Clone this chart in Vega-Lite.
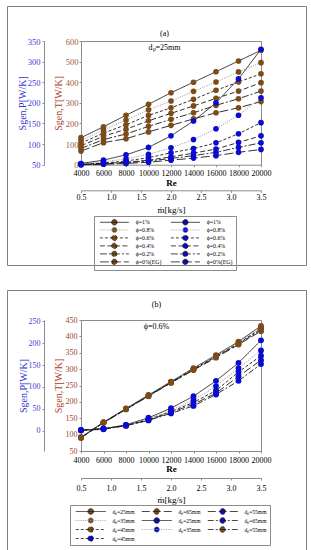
{
  "$schema": "https://vega.github.io/schema/vega-lite/v6.json",
  "background": "white",
  "padding": {"left": 6, "top": 5, "right": 0, "bottom": 0},
  "spacing": 18,
  "config": {
    "font": "Liberation Serif",
    "view": {"stroke": null},
    "axis": {"grid": false, "labelFont": "Liberation Serif", "titleFont": "Liberation Serif", "titleFontWeight": "normal", "labelColor": "#000", "titleColor": "#000", "domainColor": "#8c8c8c", "tickColor": "#8c8c8c", "tickSize": 2, "labelFlush": false, "labelOverlap": false, "labelPadding": 2}
  },
  "resolve": {"scale": {"fill": "independent", "stroke": "independent", "strokeDash": "independent"}, "legend": {"fill": "independent", "stroke": "independent", "strokeDash": "independent"}},
  "datasets": {
    "aT": [
      {"Re":4000,"s":"T1","v":131},{"Re":6000,"s":"T1","v":184},{"Re":8000,"s":"T1","v":240},{"Re":10000,"s":"T1","v":293},{"Re":12000,"s":"T1","v":349},{"Re":14000,"s":"T1","v":400},{"Re":16000,"s":"T1","v":451},{"Re":18000,"s":"T1","v":503},{"Re":20000,"s":"T1","v":555},
      {"Re":4000,"s":"T0.8","v":118},{"Re":6000,"s":"T0.8","v":169},{"Re":8000,"s":"T0.8","v":217},{"Re":10000,"s":"T0.8","v":266},{"Re":12000,"s":"T0.8","v":309},{"Re":14000,"s":"T0.8","v":356},{"Re":16000,"s":"T0.8","v":401},{"Re":18000,"s":"T0.8","v":450},{"Re":20000,"s":"T0.8","v":495},
      {"Re":4000,"s":"T0.6","v":105},{"Re":6000,"s":"T0.6","v":153},{"Re":8000,"s":"T0.6","v":194},{"Re":10000,"s":"T0.6","v":239},{"Re":12000,"s":"T0.6","v":276},{"Re":14000,"s":"T0.6","v":317},{"Re":16000,"s":"T0.6","v":361},{"Re":18000,"s":"T0.6","v":401},{"Re":20000,"s":"T0.6","v":441},
      {"Re":4000,"s":"T0.4","v":92},{"Re":6000,"s":"T0.4","v":138},{"Re":8000,"s":"T0.4","v":172},{"Re":10000,"s":"T0.4","v":213},{"Re":12000,"s":"T0.4","v":249},{"Re":14000,"s":"T0.4","v":285},{"Re":16000,"s":"T0.4","v":322},{"Re":18000,"s":"T0.4","v":357},{"Re":20000,"s":"T0.4","v":398},
      {"Re":4000,"s":"T0.2","v":79},{"Re":6000,"s":"T0.2","v":122},{"Re":8000,"s":"T0.2","v":149},{"Re":10000,"s":"T0.2","v":186},{"Re":12000,"s":"T0.2","v":220},{"Re":14000,"s":"T0.2","v":252},{"Re":16000,"s":"T0.2","v":288},{"Re":18000,"s":"T0.2","v":320},{"Re":20000,"s":"T0.2","v":357},
      {"Re":4000,"s":"T0","v":66},{"Re":6000,"s":"T0","v":107},{"Re":8000,"s":"T0","v":126},{"Re":10000,"s":"T0","v":159},{"Re":12000,"s":"T0","v":191},{"Re":14000,"s":"T0","v":222},{"Re":16000,"s":"T0","v":252},{"Re":18000,"s":"T0","v":276},{"Re":20000,"s":"T0","v":306}
    ],
    "aP": [
      {"Re":4000,"s":"P1","v":53},{"Re":6000,"s":"P1","v":61},{"Re":8000,"s":"P1","v":74},{"Re":10000,"s":"P1","v":92},{"Re":12000,"s":"P1","v":120},{"Re":14000,"s":"P1","v":156},{"Re":16000,"s":"P1","v":200},{"Re":18000,"s":"P1","v":258},{"Re":20000,"s":"P1","v":330},
      {"Re":4000,"s":"P0.8","v":52},{"Re":6000,"s":"P0.8","v":57},{"Re":8000,"s":"P0.8","v":64},{"Re":10000,"s":"P0.8","v":75},{"Re":12000,"s":"P0.8","v":91},{"Re":14000,"s":"P0.8","v":111},{"Re":16000,"s":"P0.8","v":137},{"Re":18000,"s":"P0.8","v":170},{"Re":20000,"s":"P0.8","v":212},
      {"Re":4000,"s":"P0.6","v":51},{"Re":6000,"s":"P0.6","v":54},{"Re":8000,"s":"P0.6","v":59},{"Re":10000,"s":"P0.6","v":67},{"Re":12000,"s":"P0.6","v":79},{"Re":14000,"s":"P0.6","v":89},{"Re":16000,"s":"P0.6","v":103},{"Re":18000,"s":"P0.6","v":125},{"Re":20000,"s":"P0.6","v":152},
      {"Re":4000,"s":"P0.4","v":51},{"Re":6000,"s":"P0.4","v":53},{"Re":8000,"s":"P0.4","v":56},{"Re":10000,"s":"P0.4","v":61},{"Re":12000,"s":"P0.4","v":69},{"Re":14000,"s":"P0.4","v":78},{"Re":16000,"s":"P0.4","v":88},{"Re":18000,"s":"P0.4","v":104},{"Re":20000,"s":"P0.4","v":120},
      {"Re":4000,"s":"P0.2","v":50},{"Re":6000,"s":"P0.2","v":52},{"Re":8000,"s":"P0.2","v":55},{"Re":10000,"s":"P0.2","v":59},{"Re":12000,"s":"P0.2","v":65},{"Re":14000,"s":"P0.2","v":72},{"Re":16000,"s":"P0.2","v":80},{"Re":18000,"s":"P0.2","v":92},{"Re":20000,"s":"P0.2","v":103},
      {"Re":4000,"s":"P0","v":50},{"Re":6000,"s":"P0","v":51},{"Re":8000,"s":"P0","v":53},{"Re":10000,"s":"P0","v":56},{"Re":12000,"s":"P0","v":61},{"Re":14000,"s":"P0","v":66},{"Re":16000,"s":"P0","v":72},{"Re":18000,"s":"P0","v":80},{"Re":20000,"s":"P0","v":87}
    ],
    "bT": [
      {"Re":4000,"s":"T25","v":92},{"Re":6000,"s":"T25","v":138},{"Re":8000,"s":"T25","v":180},{"Re":10000,"s":"T25","v":221},{"Re":12000,"s":"T25","v":262},{"Re":14000,"s":"T25","v":303},{"Re":16000,"s":"T25","v":343},{"Re":18000,"s":"T25","v":384},{"Re":20000,"s":"T25","v":432},
      {"Re":4000,"s":"T35","v":92},{"Re":6000,"s":"T35","v":137},{"Re":8000,"s":"T35","v":179},{"Re":10000,"s":"T35","v":220},{"Re":12000,"s":"T35","v":261},{"Re":14000,"s":"T35","v":301},{"Re":16000,"s":"T35","v":341},{"Re":18000,"s":"T35","v":381},{"Re":20000,"s":"T35","v":428},
      {"Re":4000,"s":"T45","v":91},{"Re":6000,"s":"T45","v":137},{"Re":8000,"s":"T45","v":178},{"Re":10000,"s":"T45","v":219},{"Re":12000,"s":"T45","v":260},{"Re":14000,"s":"T45","v":300},{"Re":16000,"s":"T45","v":339},{"Re":18000,"s":"T45","v":379},{"Re":20000,"s":"T45","v":424},
      {"Re":4000,"s":"T55","v":91},{"Re":6000,"s":"T55","v":136},{"Re":8000,"s":"T55","v":178},{"Re":10000,"s":"T55","v":218},{"Re":12000,"s":"T55","v":259},{"Re":14000,"s":"T55","v":298},{"Re":16000,"s":"T55","v":337},{"Re":18000,"s":"T55","v":377},{"Re":20000,"s":"T55","v":420},
      {"Re":4000,"s":"T65","v":90},{"Re":6000,"s":"T65","v":136},{"Re":8000,"s":"T65","v":177},{"Re":10000,"s":"T65","v":217},{"Re":12000,"s":"T65","v":258},{"Re":14000,"s":"T65","v":297},{"Re":16000,"s":"T65","v":335},{"Re":18000,"s":"T65","v":375},{"Re":20000,"s":"T65","v":416}
    ],
    "bP": [
      {"Re":4000,"s":"P25","v":2},{"Re":6000,"s":"P25","v":5},{"Re":8000,"s":"P25","v":14},{"Re":10000,"s":"P25","v":30},{"Re":12000,"s":"P25","v":52},{"Re":14000,"s":"P25","v":79},{"Re":16000,"s":"P25","v":114},{"Re":18000,"s":"P25","v":155},{"Re":20000,"s":"P25","v":206},
      {"Re":4000,"s":"P35","v":2},{"Re":6000,"s":"P35","v":5},{"Re":8000,"s":"P35","v":13},{"Re":10000,"s":"P35","v":28},{"Re":12000,"s":"P35","v":47},{"Re":14000,"s":"P35","v":70},{"Re":16000,"s":"P35","v":102},{"Re":18000,"s":"P35","v":143},{"Re":20000,"s":"P35","v":183},
      {"Re":4000,"s":"P45","v":2},{"Re":6000,"s":"P45","v":5},{"Re":8000,"s":"P45","v":13},{"Re":10000,"s":"P45","v":26},{"Re":12000,"s":"P45","v":44},{"Re":14000,"s":"P45","v":65},{"Re":16000,"s":"P45","v":92},{"Re":18000,"s":"P45","v":134},{"Re":20000,"s":"P45","v":171},
      {"Re":4000,"s":"P55","v":2},{"Re":6000,"s":"P55","v":5},{"Re":8000,"s":"P55","v":12},{"Re":10000,"s":"P55","v":25},{"Re":12000,"s":"P55","v":42},{"Re":14000,"s":"P55","v":61},{"Re":16000,"s":"P55","v":86},{"Re":18000,"s":"P55","v":124},{"Re":20000,"s":"P55","v":161},
      {"Re":4000,"s":"P65","v":1},{"Re":6000,"s":"P65","v":4},{"Re":8000,"s":"P65","v":12},{"Re":10000,"s":"P65","v":24},{"Re":12000,"s":"P65","v":40},{"Re":14000,"s":"P65","v":57},{"Re":16000,"s":"P65","v":83},{"Re":18000,"s":"P65","v":114},{"Re":20000,"s":"P65","v":152}
    ],
    "flow": [{"m":0.5},{"m":1.0},{"m":1.5},{"m":2.0},{"m":2.5},{"m":3.0},{"m":3.5}]
  },
  "vconcat": [
    {
      "width": 299, "height": 259,
      "view": {"stroke": "#7f7f7f", "strokeWidth": 1, "fill": "white"},
      "title": {"text": "(a)", "subtitle": "dₚ=25mm", "offset": -46, "anchor": "middle", "dx": 8, "font": "Liberation Serif", "fontSize": 8, "fontWeight": "normal", "color": "#000", "subtitleFont": "Liberation Serif", "subtitleFontSize": 8, "subtitleColor": "#000", "subtitlePadding": 6},
      "resolve": {"scale": {"x": "independent", "y": "independent"}},
      "layer": [
        {
          "data": {"name": "aT"},
          "encoding": {
            "x": {"field": "Re", "type": "quantitative", "scale": {"domain": [4000, 20000], "range": [74, 254], "nice": false, "zero": false},
                  "axis": {"orient": "bottom", "offset": -100.3, "values": [4000,6000,8000,10000,12000,14000,16000,18000,20000], "format": "d", "labelFontSize": 8, "labelPadding": 2.5, "title": "Re", "titleFontSize": 9, "titleFontWeight": "bold", "titlePadding": 1}},
            "y": {"field": "v", "type": "quantitative", "scale": {"domain": [0, 600], "range": [158.7, 35], "nice": false, "zero": false},
                  "axis": {"orient": "left", "offset": -74, "values": [0,100,200,300,400,500,600], "labelFontSize": 8.5, "labelColor": "#9a5b35", "labelPadding": 1, "title": "Sgen,T[W/K]", "titleColor": "#a8402c", "titleFontSize": 10, "titlePadding": 2}}
          },
          "layer": [
            {"mark": {"type": "line", "strokeWidth": 0.9},
             "encoding": {
               "stroke": {"field": "s", "type": "nominal", "scale": {"domain": ["T1","T0.8","T0.6","T0.4","T0.2","T0","P1","P0.8","P0.6","P0.4","P0.2","P0"], "range": ["#1a1a1a","#9a9a9a","#1a1a1a","#1a1a1a","#1a1a1a","#1a1a1a","#1a1a1a","#9a9a9a","#1a1a1a","#1a1a1a","#1a1a1a","#1a1a1a"]},
                          "legend": {"orient": "none", "legendX": 87, "legendY": 210, "title": null, "columns": 2, "columnPadding": 6, "rowPadding": -2.2, "padding": 3, "strokeColor": "#8c8c8c", "labelFont": "Liberation Serif", "labelFontSize": 5.8, "labelColor": "#000", "symbolType": "M0,0H14.5M5.9,0A1.35,1.35 0 1,1 8.6,0A1.35,1.35 0 1,1 5.9,0Z", "symbolSize": 16, "symbolStrokeWidth": 0.8, "labelOffset": 33, "labelExpr": "'ϕ=' + substring(datum.value,1) + '%' + (substring(datum.value,1)=='0' ? '(EG)' : '')"}},
               "strokeDash": {"field": "s", "type": "nominal", "scale": {"domain": ["T1","T0.8","T0.6","T0.4","T0.2","T0","P1","P0.8","P0.6","P0.4","P0.2","P0"], "range": [[1,0],[1.2,1.2],[3,2],[5,2.5],[7,2,2,2],[9,3],[1,0],[1.2,1.2],[3,2],[5,2.5],[7,2,2,2],[9,3]]},
                          "legend": {"orient": "none", "legendX": 87, "legendY": 210, "title": null, "columns": 2, "columnPadding": 6, "rowPadding": -2.2, "padding": 3, "strokeColor": "#8c8c8c", "labelFont": "Liberation Serif", "labelFontSize": 5.8, "labelColor": "#000", "symbolType": "M0,0H14.5M5.9,0A1.35,1.35 0 1,1 8.6,0A1.35,1.35 0 1,1 5.9,0Z", "symbolSize": 16, "symbolStrokeWidth": 0.8, "labelOffset": 33, "labelExpr": "'ϕ=' + substring(datum.value,1) + '%' + (substring(datum.value,1)=='0' ? '(EG)' : '')"}}
             }},
            {"mark": {"type": "point", "filled": true, "size": 32, "opacity": 1, "strokeWidth": 0},
             "encoding": {
               "fill": {"field": "s", "type": "nominal", "scale": {"domain": ["T1","T0.8","T0.6","T0.4","T0.2","T0","P1","P0.8","P0.6","P0.4","P0.2","P0"], "range": ["#7b4b1a","#7b4b1a","#7b4b1a","#7b4b1a","#7b4b1a","#7b4b1a","#0b0bd0","#0b0bd0","#0b0bd0","#0b0bd0","#0b0bd0","#0b0bd0"]},
                        "legend": {"orient": "none", "legendX": 87, "legendY": 210, "title": null, "columns": 2, "columnPadding": 6, "rowPadding": -2.2, "padding": 3, "strokeColor": "#8c8c8c", "labelFont": "Liberation Serif", "labelFontSize": 5.8, "labelColor": "#000", "symbolType": "M0,0H14.5M5.9,0A1.35,1.35 0 1,1 8.6,0A1.35,1.35 0 1,1 5.9,0Z", "symbolSize": 16, "symbolStrokeWidth": 0.8, "labelOffset": 33, "labelExpr": "'ϕ=' + substring(datum.value,1) + '%' + (substring(datum.value,1)=='0' ? '(EG)' : '')"}}
             }}
          ]
        },
        {
          "data": {"name": "aP"},
          "encoding": {
            "x": {"field": "Re", "type": "quantitative", "scale": {"domain": [4000, 20000], "range": [74, 254], "nice": false, "zero": false},
                  "axis": {"orient": "top", "offset": -35, "labels": false, "ticks": false, "title": null}},
            "y": {"field": "v", "type": "quantitative", "scale": {"domain": [50, 350], "range": [158.7, 35], "nice": false, "zero": false},
                  "axis": {"orient": "left", "offset": -37, "values": [50,100,150,200,250,300,350], "labelFontSize": 8.5, "labelColor": "#3d3dd6", "labelPadding": 2, "title": "Sgen,P[W/K]", "titleColor": "#3434d0", "titleFontSize": 10, "titlePadding": 0}}
          },
          "layer": [
            {"mark": {"type": "line", "strokeWidth": 0.9},
             "encoding": {
               "stroke": {"field": "s", "type": "nominal", "scale": {"domain": ["T1","T0.8","T0.6","T0.4","T0.2","T0","P1","P0.8","P0.6","P0.4","P0.2","P0"], "range": ["#1a1a1a","#9a9a9a","#1a1a1a","#1a1a1a","#1a1a1a","#1a1a1a","#1a1a1a","#9a9a9a","#1a1a1a","#1a1a1a","#1a1a1a","#1a1a1a"]},
                          "legend": {"orient": "none", "legendX": 87, "legendY": 210, "title": null, "columns": 2, "columnPadding": 6, "rowPadding": -2.2, "padding": 3, "strokeColor": "#8c8c8c", "labelFont": "Liberation Serif", "labelFontSize": 5.8, "labelColor": "#000", "symbolType": "M0,0H14.5M5.9,0A1.35,1.35 0 1,1 8.6,0A1.35,1.35 0 1,1 5.9,0Z", "symbolSize": 16, "symbolStrokeWidth": 0.8, "labelOffset": 33, "labelExpr": "'ϕ=' + substring(datum.value,1) + '%' + (substring(datum.value,1)=='0' ? '(EG)' : '')"}},
               "strokeDash": {"field": "s", "type": "nominal", "scale": {"domain": ["T1","T0.8","T0.6","T0.4","T0.2","T0","P1","P0.8","P0.6","P0.4","P0.2","P0"], "range": [[1,0],[1.2,1.2],[3,2],[5,2.5],[7,2,2,2],[9,3],[1,0],[1.2,1.2],[3,2],[5,2.5],[7,2,2,2],[9,3]]},
                          "legend": {"orient": "none", "legendX": 87, "legendY": 210, "title": null, "columns": 2, "columnPadding": 6, "rowPadding": -2.2, "padding": 3, "strokeColor": "#8c8c8c", "labelFont": "Liberation Serif", "labelFontSize": 5.8, "labelColor": "#000", "symbolType": "M0,0H14.5M5.9,0A1.35,1.35 0 1,1 8.6,0A1.35,1.35 0 1,1 5.9,0Z", "symbolSize": 16, "symbolStrokeWidth": 0.8, "labelOffset": 33, "labelExpr": "'ϕ=' + substring(datum.value,1) + '%' + (substring(datum.value,1)=='0' ? '(EG)' : '')"}}
             }},
            {"mark": {"type": "point", "filled": true, "size": 32, "opacity": 1, "strokeWidth": 0},
             "encoding": {
               "fill": {"field": "s", "type": "nominal", "scale": {"domain": ["T1","T0.8","T0.6","T0.4","T0.2","T0","P1","P0.8","P0.6","P0.4","P0.2","P0"], "range": ["#7b4b1a","#7b4b1a","#7b4b1a","#7b4b1a","#7b4b1a","#7b4b1a","#0b0bd0","#0b0bd0","#0b0bd0","#0b0bd0","#0b0bd0","#0b0bd0"]},
                        "legend": {"orient": "none", "legendX": 87, "legendY": 210, "title": null, "columns": 2, "columnPadding": 6, "rowPadding": -2.2, "padding": 3, "strokeColor": "#8c8c8c", "labelFont": "Liberation Serif", "labelFontSize": 5.8, "labelColor": "#000", "symbolType": "M0,0H14.5M5.9,0A1.35,1.35 0 1,1 8.6,0A1.35,1.35 0 1,1 5.9,0Z", "symbolSize": 16, "symbolStrokeWidth": 0.8, "labelOffset": 33, "labelExpr": "'ϕ=' + substring(datum.value,1) + '%' + (substring(datum.value,1)=='0' ? '(EG)' : '')"}}
             }}
          ]
        },
        {
          "data": {"name": "flow"},
          "mark": {"type": "point", "opacity": 0},
          "encoding": {
            "x": {"field": "m", "type": "quantitative", "scale": {"domain": [0.5, 3.5], "range": [74, 254], "nice": false, "zero": false},
                  "axis": {"orient": "bottom", "offset": -74.7, "values": [0.5,1,1.5,2,2.5,3,3.5], "format": ".1f", "labelFontSize": 8, "labelPadding": 1.5, "title": "ṁ[kg/s]", "titleFontSize": 9, "titlePadding": 4}},
            "y": {"field": "m", "type": "quantitative", "scale": {"domain": [0.5, 3.5], "range": [158.7, 35], "nice": false, "zero": false},
                  "axis": {"orient": "right", "offset": -45, "labels": false, "ticks": false, "title": null}}
          }
        }
      ]
    },
    {
      "width": 299, "height": 263,
      "view": {"stroke": "#7f7f7f", "strokeWidth": 1, "fill": "white"},
      "title": {"text": "(b)", "subtitle": "ϕ=0.6%", "offset": -41, "anchor": "middle", "dx": 0, "font": "Liberation Serif", "fontSize": 8, "fontWeight": "normal", "color": "#000", "subtitleFont": "Liberation Serif", "subtitleFontSize": 8, "subtitleColor": "#000", "subtitlePadding": 14},
      "resolve": {"scale": {"x": "independent", "y": "independent"}},
      "layer": [
        {
          "data": {"name": "bT"},
          "encoding": {
            "x": {"field": "Re", "type": "quantitative", "scale": {"domain": [4000, 20000], "range": [74, 254], "nice": false, "zero": false},
                  "axis": {"orient": "bottom", "offset": -102, "values": [4000,6000,8000,10000,12000,14000,16000,18000,20000], "format": "d", "labelFontSize": 8, "labelPadding": 3.5, "title": "Re", "titleFontSize": 9, "titleFontWeight": "bold", "titlePadding": 0}},
            "y": {"field": "v", "type": "quantitative", "scale": {"domain": [50, 450], "range": [161, 30], "nice": false, "zero": false},
                  "axis": {"orient": "left", "offset": -74, "values": [50,100,150,200,250,300,350,400,450], "labelFontSize": 8, "labelColor": "#a0452f", "labelPadding": 2, "title": "Sgen,T[W/K]", "titleColor": "#b03a2a", "titleFontSize": 10, "titlePadding": 2}}
          },
          "layer": [
            {"mark": {"type": "line", "strokeWidth": 0.9},
             "encoding": {
               "stroke": {"field": "s", "type": "nominal", "scale": {"domain": ["T25","T35","T45","T55","T65","P25","P35","P45","P55","P65"], "range": ["#1a1a1a","#9a9a9a","#1a1a1a","#1a1a1a","#1a1a1a","#1a1a1a","#9a9a9a","#1a1a1a","#1a1a1a","#1a1a1a"]},
                          "legend": {"orient": "none", "legendX": 63, "legendY": 215, "title": null, "columns": 3, "columnPadding": 4, "rowPadding": 2, "clipHeight": 7, "padding": 3, "strokeColor": "#8c8c8c", "labelFont": "Liberation Serif", "labelFontSize": 5.5, "labelColor": "#000", "symbolType": "M0,0H15M6.1,0A1.4,1.4 0 1,1 8.9,0A1.4,1.4 0 1,1 6.1,0Z", "symbolSize": 16, "symbolStrokeWidth": 0.8, "labelOffset": 34, "labelExpr": "'dₚ=' + substring(datum.value,1) + 'mm'"}},
               "strokeDash": {"field": "s", "type": "nominal", "scale": {"domain": ["T25","T35","T45","T55","T65","P25","P35","P45","P55","P65"], "range": [[1,0],[1.2,1.2],[3,2],[6,2,2,2],[8,3],[1,0],[1.2,1.2],[3,2],[8,3],[6,2,2,2]]},
                          "legend": {"orient": "none", "legendX": 63, "legendY": 215, "title": null, "columns": 3, "columnPadding": 4, "rowPadding": 2, "clipHeight": 7, "padding": 3, "strokeColor": "#8c8c8c", "labelFont": "Liberation Serif", "labelFontSize": 5.5, "labelColor": "#000", "symbolType": "M0,0H15M6.1,0A1.4,1.4 0 1,1 8.9,0A1.4,1.4 0 1,1 6.1,0Z", "symbolSize": 16, "symbolStrokeWidth": 0.8, "labelOffset": 34, "labelExpr": "'dₚ=' + substring(datum.value,1) + 'mm'"}}
             }},
            {"mark": {"type": "point", "filled": true, "size": 34, "opacity": 1, "strokeWidth": 0},
             "encoding": {
               "fill": {"field": "s", "type": "nominal", "scale": {"domain": ["T25","T35","T45","T55","T65","P25","P35","P45","P55","P65"], "range": ["#7b4b1a","#7b4b1a","#7b4b1a","#7b4b1a","#7b4b1a","#0b0bd0","#0b0bd0","#0b0bd0","#0b0bd0","#0b0bd0"]},
                        "legend": {"orient": "none", "legendX": 63, "legendY": 215, "title": null, "columns": 3, "columnPadding": 4, "rowPadding": 2, "clipHeight": 7, "padding": 3, "strokeColor": "#8c8c8c", "labelFont": "Liberation Serif", "labelFontSize": 5.5, "labelColor": "#000", "symbolType": "M0,0H15M6.1,0A1.4,1.4 0 1,1 8.9,0A1.4,1.4 0 1,1 6.1,0Z", "symbolSize": 16, "symbolStrokeWidth": 0.8, "labelOffset": 34, "labelExpr": "'dₚ=' + substring(datum.value,1) + 'mm'"}}
             }}
          ]
        },
        {
          "data": {"name": "bP"},
          "encoding": {
            "x": {"field": "Re", "type": "quantitative", "scale": {"domain": [4000, 20000], "range": [74, 254], "nice": false, "zero": false},
                  "axis": {"orient": "top", "offset": -30, "labels": false, "ticks": false, "title": null}},
            "y": {"field": "v", "type": "quantitative", "scale": {"domain": [-45.5, 252.3], "range": [161, 30], "nice": false, "zero": false},
                  "axis": {"orient": "left", "offset": -37, "values": [0,50,100,150,200,250], "labelFontSize": 8, "labelColor": "#3d3dd6", "labelPadding": 2, "title": "Sgen,P[W/K]", "titleColor": "#3434d0", "titleFontSize": 10, "titlePadding": 0}}
          },
          "layer": [
            {"mark": {"type": "line", "strokeWidth": 0.9},
             "encoding": {
               "stroke": {"field": "s", "type": "nominal", "scale": {"domain": ["T25","T35","T45","T55","T65","P25","P35","P45","P55","P65"], "range": ["#1a1a1a","#9a9a9a","#1a1a1a","#1a1a1a","#1a1a1a","#1a1a1a","#9a9a9a","#1a1a1a","#1a1a1a","#1a1a1a"]},
                          "legend": {"orient": "none", "legendX": 63, "legendY": 215, "title": null, "columns": 3, "columnPadding": 4, "rowPadding": 2, "clipHeight": 7, "padding": 3, "strokeColor": "#8c8c8c", "labelFont": "Liberation Serif", "labelFontSize": 5.5, "labelColor": "#000", "symbolType": "M0,0H15M6.1,0A1.4,1.4 0 1,1 8.9,0A1.4,1.4 0 1,1 6.1,0Z", "symbolSize": 16, "symbolStrokeWidth": 0.8, "labelOffset": 34, "labelExpr": "'dₚ=' + substring(datum.value,1) + 'mm'"}},
               "strokeDash": {"field": "s", "type": "nominal", "scale": {"domain": ["T25","T35","T45","T55","T65","P25","P35","P45","P55","P65"], "range": [[1,0],[1.2,1.2],[3,2],[6,2,2,2],[8,3],[1,0],[1.2,1.2],[3,2],[8,3],[6,2,2,2]]},
                          "legend": {"orient": "none", "legendX": 63, "legendY": 215, "title": null, "columns": 3, "columnPadding": 4, "rowPadding": 2, "clipHeight": 7, "padding": 3, "strokeColor": "#8c8c8c", "labelFont": "Liberation Serif", "labelFontSize": 5.5, "labelColor": "#000", "symbolType": "M0,0H15M6.1,0A1.4,1.4 0 1,1 8.9,0A1.4,1.4 0 1,1 6.1,0Z", "symbolSize": 16, "symbolStrokeWidth": 0.8, "labelOffset": 34, "labelExpr": "'dₚ=' + substring(datum.value,1) + 'mm'"}}
             }},
            {"mark": {"type": "point", "filled": true, "size": 34, "opacity": 1, "strokeWidth": 0},
             "encoding": {
               "fill": {"field": "s", "type": "nominal", "scale": {"domain": ["T25","T35","T45","T55","T65","P25","P35","P45","P55","P65"], "range": ["#7b4b1a","#7b4b1a","#7b4b1a","#7b4b1a","#7b4b1a","#0b0bd0","#0b0bd0","#0b0bd0","#0b0bd0","#0b0bd0"]},
                        "legend": {"orient": "none", "legendX": 63, "legendY": 215, "title": null, "columns": 3, "columnPadding": 4, "rowPadding": 2, "clipHeight": 7, "padding": 3, "strokeColor": "#8c8c8c", "labelFont": "Liberation Serif", "labelFontSize": 5.5, "labelColor": "#000", "symbolType": "M0,0H15M6.1,0A1.4,1.4 0 1,1 8.9,0A1.4,1.4 0 1,1 6.1,0Z", "symbolSize": 16, "symbolStrokeWidth": 0.8, "labelOffset": 34, "labelExpr": "'dₚ=' + substring(datum.value,1) + 'mm'"}}
             }}
          ]
        },
        {
          "data": {"name": "flow"},
          "mark": {"type": "point", "opacity": 0},
          "encoding": {
            "x": {"field": "m", "type": "quantitative", "scale": {"domain": [0.5, 3.5], "range": [74, 254], "nice": false, "zero": false},
                  "axis": {"orient": "bottom", "offset": -75, "values": [0.5,1,1.5,2,2.5,3,3.5], "format": ".1f", "labelFontSize": 8, "labelPadding": 4, "title": "ṁ[kg/s]", "titleFontSize": 9, "titlePadding": 3}},
            "y": {"field": "m", "type": "quantitative", "scale": {"domain": [0.5, 3.5], "range": [161, 30], "nice": false, "zero": false},
                  "axis": {"orient": "right", "offset": -45, "labels": false, "ticks": false, "title": null}}
          }
        }
      ]
    }
  ]
}
